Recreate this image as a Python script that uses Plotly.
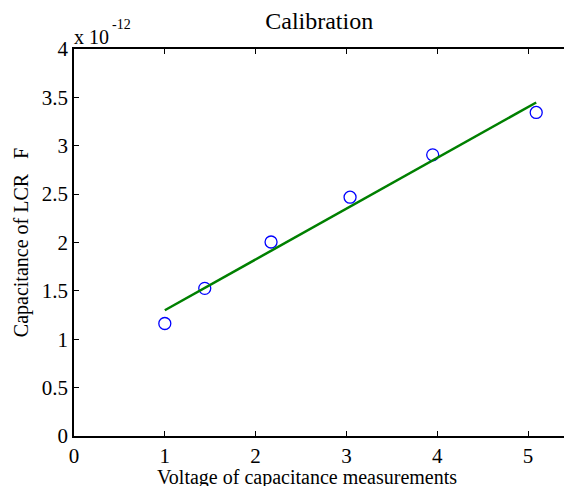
import plotly.graph_objects as go

# Calibration measurements (capacitance in units of 1e-12 F)
voltage = [1.00, 1.44, 2.17, 3.04, 3.95, 5.09]
capacitance = [1.163, 1.526, 2.005, 2.468, 2.906, 3.344]

# Fitted calibration line endpoints
fit_voltage = [1.00, 5.09]
fit_capacitance = [1.30, 3.447]

x_ticks = [0, 1, 2, 3, 4, 5]
y_ticks = [0, 0.5, 1, 1.5, 2, 2.5, 3, 3.5, 4]
y_tick_labels = ["0", "0.5", "1", "1.5", "2", "2.5", "3", "3.5", "4"]

FONT = "Liberation Serif"

fig = go.Figure()
fig.add_trace(go.Scatter(
    x=voltage, y=capacitance, mode="markers",
    marker=dict(symbol="circle-open", size=12, color="#0000ff", line=dict(width=1.3)),
    showlegend=False,
))
fig.add_trace(go.Scatter(
    x=fit_voltage, y=fit_capacitance, mode="lines",
    line=dict(color="#008000", width=2.5),
    showlegend=False,
))

fig.update_layout(
    width=564, height=486,
    margin=dict(l=74, r=0, t=49, b=50, autoexpand=False),
    plot_bgcolor="white", paper_bgcolor="white",
    font=dict(family=FONT, color="black", size=20),
    title=dict(text="Calibration", x=0.566, xanchor="center", y=0.975, yanchor="top",
               font=dict(family=FONT, size=24)),
)
fig.update_xaxes(
    range=[0, 5.396], tickvals=x_ticks, ticks="inside", ticklen=5, tickcolor="black",
    showline=True, linecolor="black", linewidth=1.5, mirror="ticks", automargin=False,
    showgrid=False, zeroline=False, tickfont=dict(family=FONT, size=21),
)
fig.update_yaxes(
    range=[0, 4], tickvals=y_ticks, ticktext=y_tick_labels, ticks="inside", ticklen=5,
    tickcolor="black", showline=True, linecolor="black", linewidth=1.5, automargin=False,
    showgrid=False, zeroline=False, tickfont=dict(family=FONT, size=21),
    title=dict(text="Capacitance of LCR   F", standoff=8,
               font=dict(family=FONT, size=20)),
)

# X axis label, set below the tick labels
fig.add_annotation(
    text="Voltage of capacitance measurements", xref="paper", yref="paper",
    x=0.4745, y=0.0, xanchor="center", yanchor="top", showarrow=False,
    font=dict(family=FONT, size=20), yshift=-28,
)

# Exponent label for the y axis
fig.add_annotation(
    text="x 10", xref="paper", yref="paper", x=0.0, y=1.0,
    xanchor="left", yanchor="bottom", showarrow=False,
    font=dict(family=FONT, size=20), xshift=-2, yshift=-1,
)
fig.add_annotation(
    text="-12", xref="paper", yref="paper", x=0.0, y=1.0,
    xanchor="left", yanchor="bottom", showarrow=False,
    font=dict(family=FONT, size=14), xshift=36, yshift=15,
)

fig.write_html("out.html")
